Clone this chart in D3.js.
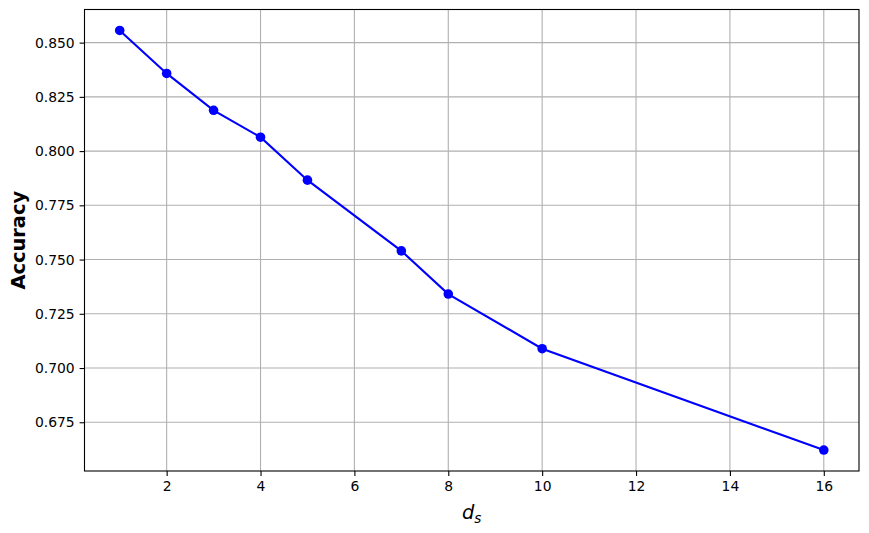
<!DOCTYPE html>
<html>
<head>
<meta charset="utf-8">
<script src="https://cdn.jsdelivr.net/npm/d3@7"></script>
<style>
  body { margin: 0; background: #fff; }
  svg { display: block; font-family: "DejaVu Sans", sans-serif; }
</style>
</head>
<body>
<div id="chart"></div>
<script>
// values
const dsValues = [1, 2, 3, 4, 5, 7, 8, 10, 16];
const accuracy = [0.8556, 0.8358, 0.8188, 0.8064, 0.7866, 0.7540, 0.7341, 0.7089, 0.6622];
const xTicks = [2, 4, 6, 8, 10, 12, 14, 16];
const yTicks = [0.675, 0.700, 0.725, 0.750, 0.775, 0.800, 0.825, 0.850];

const width = 869, height = 533;
const margin = { top: 9.5, right: 10, bottom: 62, left: 84.5 };

const svg = d3.select("#chart").append("svg")
    .attr("width", width)
    .attr("height", height);

// matplotlib style 5% padding around the data
const xMin = d3.min(dsValues), xMax = d3.max(dsValues);
const yMin = d3.min(accuracy), yMax = d3.max(accuracy);
const xPad = (xMax - xMin) * 0.05, yPad = (yMax - yMin) * 0.05;

const x = d3.scaleLinear()
    .domain([xMin - xPad, xMax + xPad])
    .range([margin.left, width - margin.right]);
const y = d3.scaleLinear()
    .domain([yMin - yPad, yMax + yPad])
    .range([height - margin.bottom, margin.top]);

// grid
const grid = svg.append("g").attr("stroke", "#b0b0b0").attr("stroke-width", 1.1);
grid.selectAll("line.vx").data(xTicks).join("line")
    .attr("x1", d => x(d)).attr("x2", d => x(d))
    .attr("y1", margin.top).attr("y2", height - margin.bottom);
grid.selectAll("line.hy").data(yTicks).join("line")
    .attr("y1", d => y(d)).attr("y2", d => y(d))
    .attr("x1", margin.left).attr("x2", width - margin.right);

// axes
const xAxis = svg.append("g")
    .attr("transform", `translate(0,${height - margin.bottom})`)
    .call(d3.axisBottom(x).tickValues(xTicks).tickSize(4.9).tickPadding(4.9).tickSizeOuter(0));
const yAxis = svg.append("g")
    .attr("transform", `translate(${margin.left},0)`)
    .call(d3.axisLeft(y).tickValues(yTicks).tickFormat(d3.format(".3f")).tickSize(4.9).tickPadding(4.9).tickSizeOuter(0));

[xAxis, yAxis].forEach(g => {
    g.select(".domain").remove();
    g.selectAll(".tick line").attr("stroke", "#000").attr("stroke-width", 1.1);
    g.selectAll(".tick text")
        .attr("font-family", "DejaVu Sans")
        .attr("font-size", 13.9)
        .attr("fill", "#000");
});

// frame
svg.append("rect")
    .attr("x", margin.left).attr("y", margin.top)
    .attr("width", width - margin.left - margin.right)
    .attr("height", height - margin.top - margin.bottom)
    .attr("fill", "none").attr("stroke", "#000").attr("stroke-width", 1.1);

// line + markers
const pts = dsValues.map((d, i) => [d, accuracy[i]]);
svg.append("path")
    .datum(pts)
    .attr("fill", "none")
    .attr("stroke", "#0000ff")
    .attr("stroke-width", 2.1)
    .attr("d", d3.line().x(d => x(d[0])).y(d => y(d[1])));
svg.selectAll("circle.pt").data(pts).join("circle")
    .attr("cx", d => x(d[0])).attr("cy", d => y(d[1]))
    .attr("r", 4.8).attr("fill", "#0000ff");

// labels
svg.append("text")
    .attr("x", (margin.left + width - margin.right) / 2)
    .attr("y", 519)
    .attr("text-anchor", "middle")
    .attr("font-family", "DejaVu Sans")
    .attr("font-size", 19.4)
    .attr("font-style", "italic")
    .html('d<tspan font-size="13.6" dy="4">s</tspan>');

svg.append("text")
    .attr("transform", `translate(25,${(margin.top + height - margin.bottom) / 2}) rotate(-90)`)
    .attr("text-anchor", "middle")
    .attr("font-family", "DejaVu Sans")
    .attr("font-weight", "bold")
    .attr("font-size", 19.4)
    .text("Accuracy");
</script>
</body>
</html>
